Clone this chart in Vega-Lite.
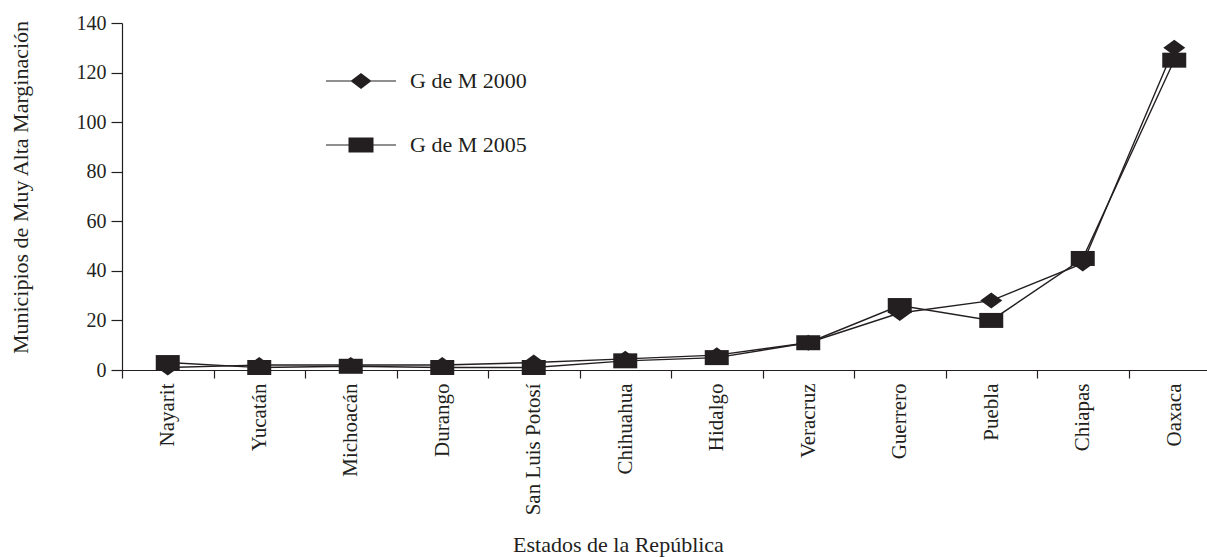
{
  "$schema": "https://vega.github.io/schema/vega-lite/v6.json",
  "width": 1085,
  "height": 347,
  "autosize": {"type": "none"},
  "padding": {"left": 122, "top": 23, "right": 0, "bottom": 187},
  "background": "white",
  "config": {
    "view": {"stroke": null},
    "font": "Liberation Serif",
    "axis": {"domainColor": "#231f20", "tickColor": "#231f20", "labelColor": "#231f20", "titleColor": "#231f20", "labelFont": "Liberation Serif", "titleFont": "Liberation Serif", "titleFontWeight": "normal", "grid": false, "domainWidth": 1.2, "tickWidth": 1.2},
    "legend": {"labelFont": "Liberation Serif", "labelColor": "#231f20", "symbolOpacity": 1, "symbolFillColor": "#231f20"}
  },
  "data": {
    "values": [
      {"estado": "Nayarit", "serie": "G de M 2000", "valor": 1},
      {"estado": "Yucatán", "serie": "G de M 2000", "valor": 2},
      {"estado": "Michoacán", "serie": "G de M 2000", "valor": 2},
      {"estado": "Durango", "serie": "G de M 2000", "valor": 2},
      {"estado": "San Luis Potosí", "serie": "G de M 2000", "valor": 3},
      {"estado": "Chihuahua", "serie": "G de M 2000", "valor": 4.5},
      {"estado": "Hidalgo", "serie": "G de M 2000", "valor": 6},
      {"estado": "Veracruz", "serie": "G de M 2000", "valor": 11},
      {"estado": "Guerrero", "serie": "G de M 2000", "valor": 23},
      {"estado": "Puebla", "serie": "G de M 2000", "valor": 28},
      {"estado": "Chiapas", "serie": "G de M 2000", "valor": 43},
      {"estado": "Oaxaca", "serie": "G de M 2000", "valor": 130},
      {"estado": "Nayarit", "serie": "G de M 2005", "valor": 3},
      {"estado": "Yucatán", "serie": "G de M 2005", "valor": 1},
      {"estado": "Michoacán", "serie": "G de M 2005", "valor": 1.5},
      {"estado": "Durango", "serie": "G de M 2005", "valor": 1},
      {"estado": "San Luis Potosí", "serie": "G de M 2005", "valor": 1},
      {"estado": "Chihuahua", "serie": "G de M 2005", "valor": 3.7},
      {"estado": "Hidalgo", "serie": "G de M 2005", "valor": 5},
      {"estado": "Veracruz", "serie": "G de M 2005", "valor": 11},
      {"estado": "Guerrero", "serie": "G de M 2005", "valor": 26},
      {"estado": "Puebla", "serie": "G de M 2005", "valor": 20},
      {"estado": "Chiapas", "serie": "G de M 2005", "valor": 45},
      {"estado": "Oaxaca", "serie": "G de M 2005", "valor": 125}
    ]
  },
  "encoding": {
    "x": {
      "field": "estado", "type": "nominal", "sort": null,
      "scale": {"type": "band", "range": [0, 1098], "paddingInner": 0, "paddingOuter": 0},
      "axis": {"title": "Estados de la República", "titleFontSize": 22, "titleX": 496, "titleY": 181, "titleBaseline": "alphabetic", "titleAnchor": "middle", "labelAngle": 270, "labelAlign": "right", "labelBaseline": "middle", "labelFontSize": 21, "labelPadding": 5, "tickSize": 8, "tickBand": "extent", "labelOverlap": false, "labelLimit": 300}
    },
    "y": {
      "field": "valor", "type": "quantitative",
      "scale": {"domain": [0, 140], "nice": false},
      "axis": {"title": "Municipios de Muy Alta Marginación", "titleFontSize": 22, "titleAngle": 270, "titleX": -95, "titleY": 164, "titleBaseline": "alphabetic", "titleAlign": "center", "values": [0, 20, 40, 60, 80, 100, 120, 140], "labelFontSize": 20, "tickSize": 11, "labelPadding": 5}
    }
  },
  "layer": [
    {
      "mark": {"type": "line", "color": "#231f20", "strokeWidth": 1.4},
      "encoding": {"detail": {"field": "serie", "type": "nominal"}}
    },
    {
      "mark": {"type": "point", "filled": true, "opacity": 1, "color": "#231f20"},
      "encoding": {
        "shape": {"field": "serie", "type": "nominal", "scale": {"domain": ["G de M 2000", "G de M 2005"], "range": ["M-1,0L0,-0.727L1,0L0,0.727Z", "M-1,-0.625H1V0.625H-1Z"]}, "legend": null},
        "size": {"field": "serie", "type": "nominal", "scale": {"domain": ["G de M 2000", "G de M 2005"], "range": [484, 576]}, "legend": null}
      }
    },
    {
      "transform": [{"filter": "false"}],
      "mark": {"type": "point", "filled": true, "opacity": 1, "color": "#231f20", "size": 3600},
      "encoding": {
        "shape": {"field": "serie", "type": "nominal", "scale": {"domain": ["G de M 2000", "G de M 2005"], "range": ["M-1.167,-0.02H-0.3V0.02H-1.167Z M-0.35,0L0,-0.267L0.35,0L0,0.267Z M0.3,-0.02H1.167V0.02H0.3Z", "M-1.167,-0.02H-0.4V0.02H-1.167Z M-0.417,-0.25H0.417V0.25H-0.417Z M0.4,-0.02H1.167V0.02H0.4Z"]}, "legend": {"title": null, "orient": "none", "legendX": 208, "legendY": 27, "padding": 0, "symbolSize": 3600, "labelFontSize": 22, "labelOffset": 18, "rowPadding": 21}}
      }
    }
  ],
  "resolve": {"scale": {"shape": "independent", "size": "independent"}, "legend": {"shape": "independent"}}
}
